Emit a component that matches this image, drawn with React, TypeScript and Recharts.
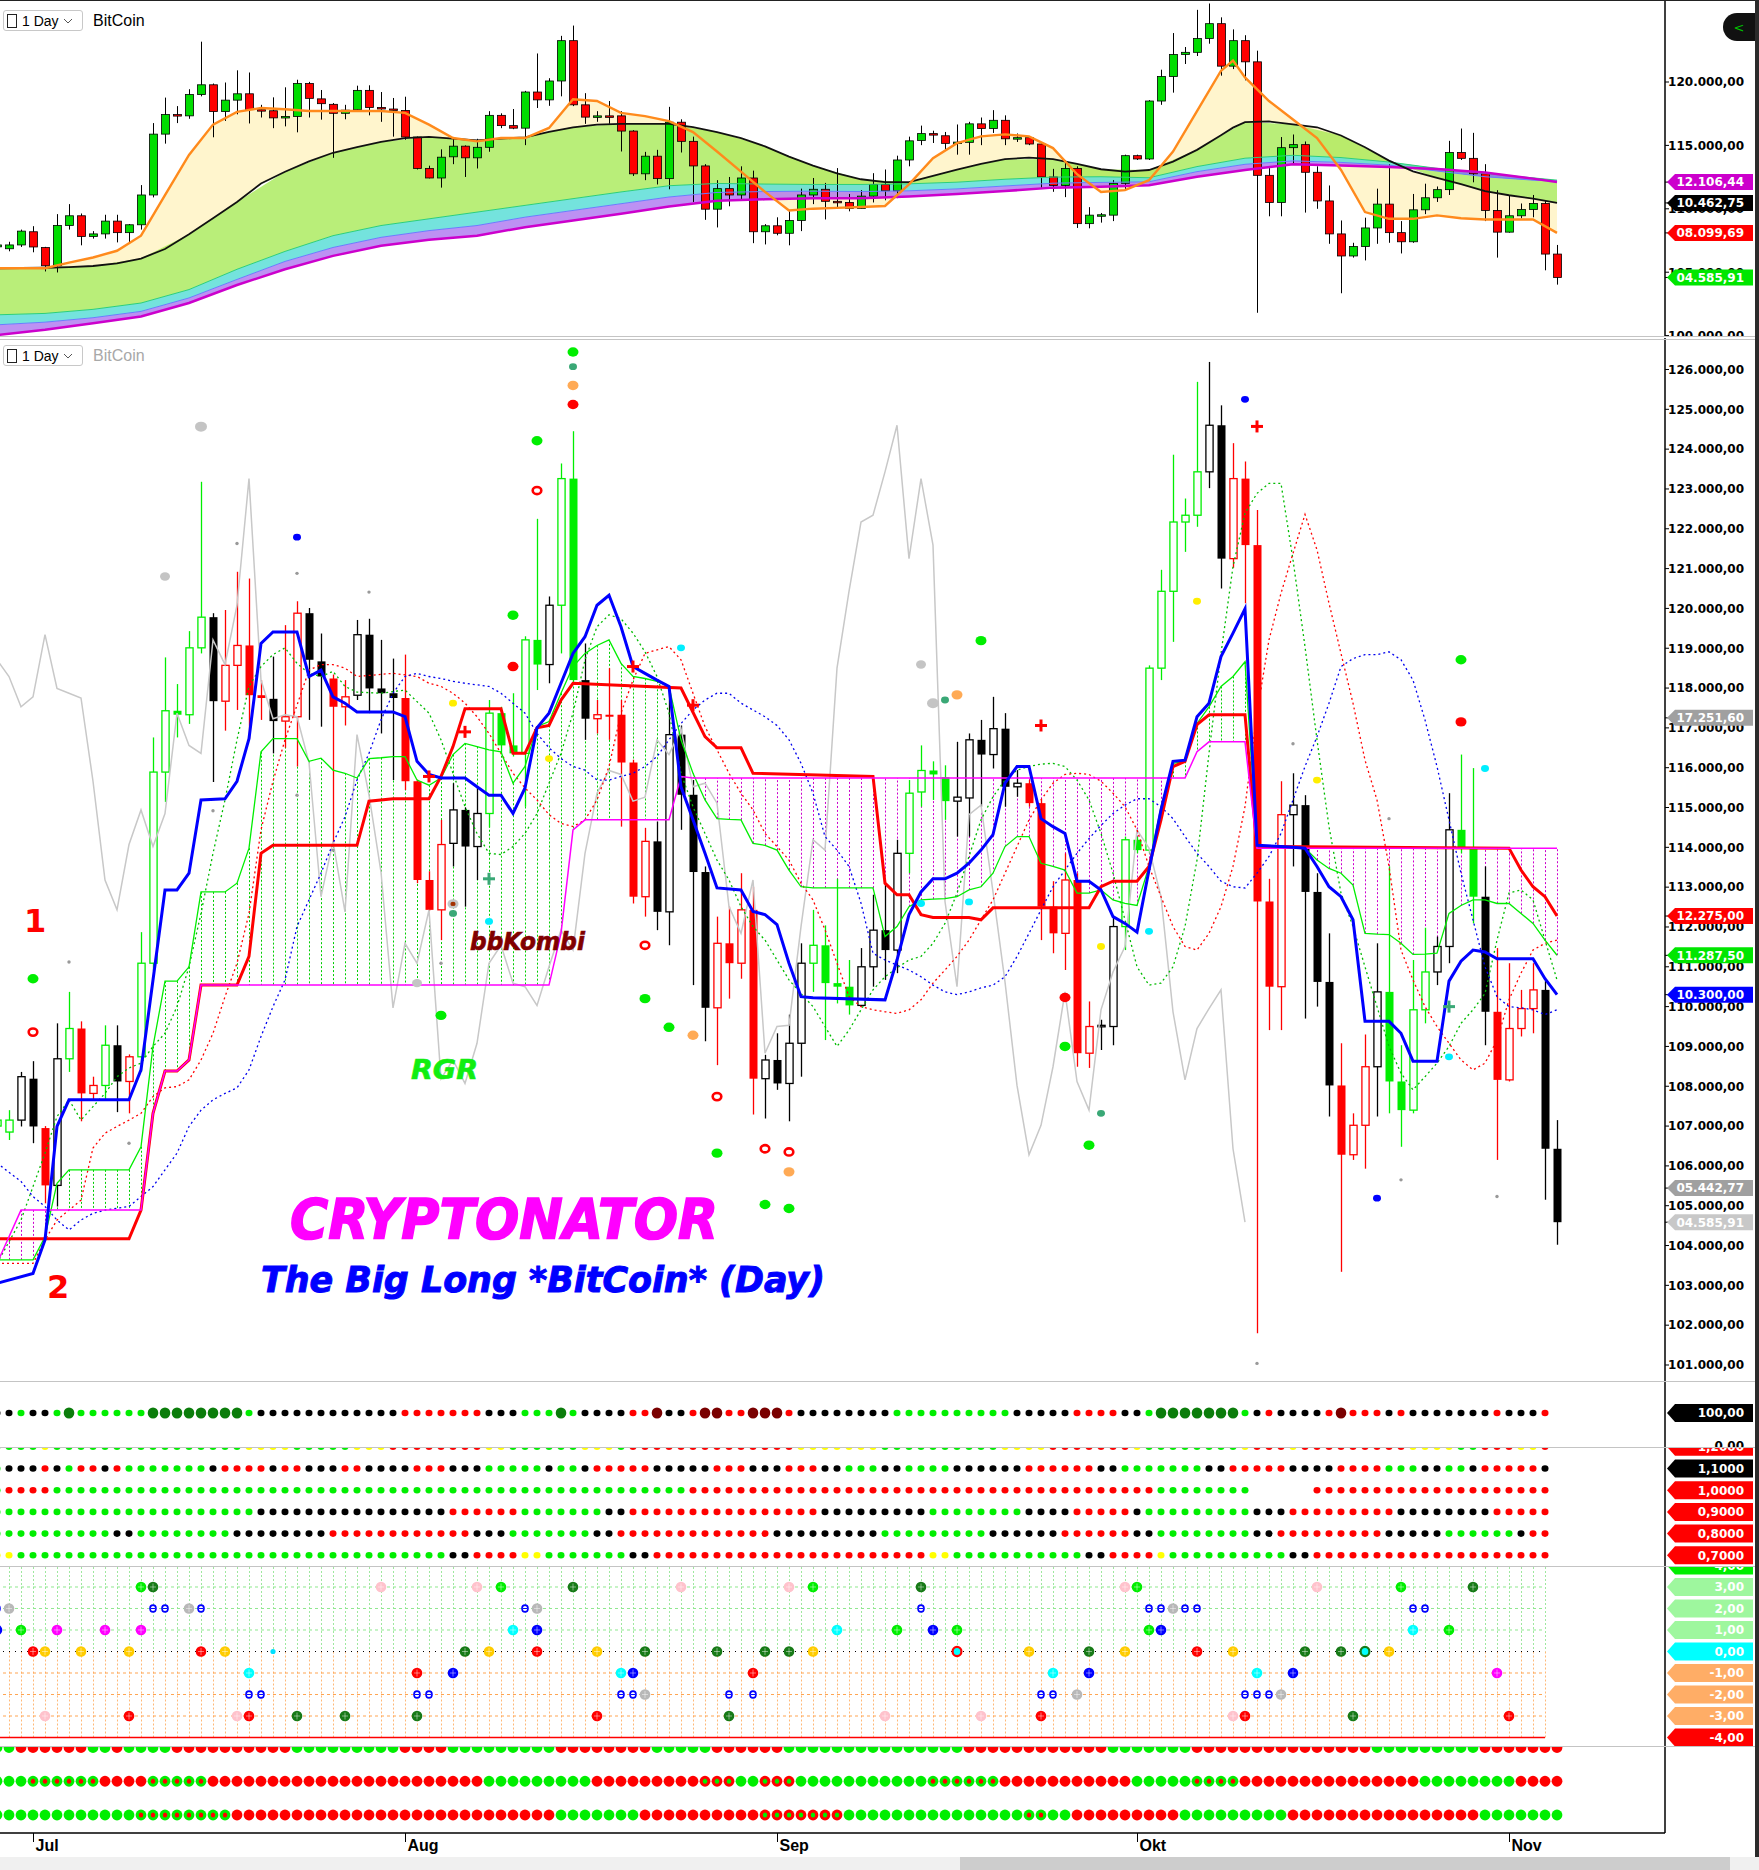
import React from "react";
import { ComposedChart, Bar, Line, Area, XAxis, YAxis } from "recharts";

// every chart is shifted 9px off the page so that the daily bands (12px) line up with the original
const OFF = 9;
const CW = 1759 + OFF;
const AXW = 94;
const AX = CW - AXW;
const SLOTS = 139;

// daily BitCoin candles, 28 Jun .. 5 Nov
const open = [
  107000, 106850, 107150, 108190, 106950, 105510, 108690, 109450, 107820, 108020,
  109030, 108120, 108740, 111090, 115890, 117430, 117330, 119010, 119780, 117670,
  118570, 119070, 117820, 117730, 117170, 117280, 119880, 118670, 118240, 117530,
  117820, 119340, 117990, 117870, 117750, 115660, 113180, 112430, 114100, 114940,
  114020, 114850, 117370, 116560, 116360, 119210, 118590, 120080, 123260, 118200,
  117230, 117330, 117330, 116130, 112760, 114150, 112380, 116830, 115320, 113380,
  109970, 111590, 111090, 112430, 108190, 108660, 108070, 109080, 111090, 111540,
  110590, 110500, 110030, 111000, 111920, 111420, 113850, 115390, 115930, 115760,
  115160, 115240, 116700, 116330, 116980, 115520, 115610, 115110, 112510, 111840,
  113180, 108830, 109500, 109500, 112010, 114190, 113930, 118500, 120430, 122170,
  122340, 123430, 124600, 121250, 123260, 121590, 112640, 110500, 114820, 115060,
  112880, 110620, 108020, 106280, 107020, 108490, 110370, 108120, 107400, 109920,
  110870, 111510, 114440, 113980, 112760, 109870, 108160, 109450, 109950, 110420,
  106430,
];
const high = [
  107350, 107400, 108360, 108630, 107000, 109580, 110370, 109630, 108240, 109530,
  109530, 108800, 111870, 116760, 118770, 118100, 119430, 123180, 119880, 119960,
  120920, 120750, 118200, 118790, 119580, 120180, 120010, 119370, 118340, 118200,
  119710, 119740, 119210, 118740, 118840, 115700, 113400, 114690, 115610, 115000,
  115520, 117700, 117530, 117870, 119300, 122250, 120300, 123640, 124450, 119120,
  117700, 118500, 117700, 116200, 114490, 114650, 118040, 117060, 115690, 113520,
  112260, 112510, 113350, 113010, 108790, 109330, 109800, 111590, 112430, 112040,
  113210, 111170, 111470, 112810, 113100, 114190, 115690, 116560, 116160, 116060,
  116650, 116860, 117200, 117780, 117370, 115940, 115690, 115190, 113150, 113850,
  113350, 110130, 109670, 112260, 114270, 114270, 118570, 120970, 123860, 122760,
  125690, 126190, 125100, 124150, 123690, 122470, 113210, 115660, 115860, 115310,
  113350, 111840, 109080, 107320, 109300, 111590, 113520, 109030, 111170, 111980,
  111760, 115360, 116330, 115990, 113520, 111470, 111090, 110420, 111090, 110640,
  107150,
];
const low = [
  106800, 106650, 106990, 106570, 105060, 104980, 108360, 107120, 107650, 107650,
  107350, 107320, 108360, 110900, 115140, 116760, 117100, 118870, 115640, 116930,
  117450, 116730, 117200, 116360, 116500, 116030, 117200, 117030, 114020, 117060,
  117700, 117370, 116860, 115690, 115440, 113100, 112400, 111670, 113520, 112510,
  113180, 114500, 116360, 116280, 115020, 117950, 118120, 118870, 118100, 116700,
  116860, 116700, 114520, 112590, 112260, 111920, 111540, 114440, 110540, 109130,
  108530, 110200, 110700, 107290, 107190, 107910, 107120, 108240, 110370, 109160,
  110080, 109800, 110000, 110500, 110670, 110840, 113350, 115020, 115190, 114690,
  114270, 114270, 115020, 115980, 115020, 115270, 115020, 111670, 111340, 110920,
  108490, 108460, 108910, 109030, 111420, 113850, 113850, 118200, 119160, 121420,
  122050, 123020, 120500, 121020, 120130, 101800, 109410, 109410, 113520, 109700,
  110000, 107240, 103340, 106150, 105930, 107240, 107320, 106480, 107320, 109580,
  110540, 111090, 113850, 112090, 109030, 106150, 108120, 109250, 109330, 105150,
  104020,
];
const close = [
  107150, 107150, 108240, 106990, 105510, 108690, 109450, 107820, 108020, 109030,
  108120, 108740, 111090, 115890, 117430, 117330, 119010, 119780, 117670, 118570,
  119070, 117820, 117750, 117170, 117280, 119880, 118710, 118290, 117530, 117780,
  119340, 117990, 117870, 117750, 115660, 113180, 112430, 114070, 114940, 114020,
  114850, 117370, 116560, 116360, 119210, 118590, 120080, 123260, 118200, 117230,
  117330, 117280, 116130, 112760, 114150, 112380, 116830, 115320, 113380, 109970,
  111590, 111090, 112430, 108190, 108660, 108070, 109080, 111090, 111540, 110590,
  110500, 110030, 111000, 111920, 111420, 113850, 115360, 115930, 115830, 115160,
  115260, 116700, 116330, 116980, 115520, 115610, 115110, 112510, 111840, 113180,
  108830, 109500, 109530, 112010, 114190, 113930, 118500, 120430, 122170, 122340,
  123430, 124600, 121250, 123260, 121590, 112640, 110500, 114820, 115060, 112880,
  110620, 108020, 106280, 107020, 108490, 110370, 108120, 107400, 109920, 110870,
  111510, 114440, 113980, 112760, 109870, 108160, 109450, 109950, 110420, 106430,
  104586,
];
// colour of the lower chart's candles (g green, r red, k black)
const candleTone =
  "ggkkrkgrrg" + "krggggggkr" + "rrrkrrkkrr" + "kkkkrrrrkk" + "kgggggkggk" + "rrrrrkkkkk" +
  "rrrrkkkkgg" + "ggkkkkgggg" + "kkkkkkrrrr" + "rrkkgggggg" + "gkkrrrrrkk" + "kkrrrkgggg" +
  "kkggkrrrrk" + "k";

const monthTickIdx = [3, 34, 65, 95, 126];
const monthLabels = ["Jul", "Aug", "Sep", "Okt", "Nov"];

// upper chart: moving-average ribbon
const emaFast = [[0,105310],[2,105310],[4,105310],[6,105760],[8,106160],[10,106690],[12,107880],[14,111070],[16,114250],[18,116640],[20,117640],[22,117950],[24,117850],[26,117710],[28,117710],[30,117710],[32,117710],[34,117570],[36,116640],[38,115580],[40,115320],[42,115580],[44,115580],[46,116380],[48,118640],[50,118500],[52,117570],[54,117310],[56,116910],[58,116050],[60,114520],[62,112930],[64,111330],[66,109870],[68,110010],[70,110070],[72,110140],[74,110220],[76,111930],[78,113990],[80,115180],[82,115710],[84,115870],[86,115710],[88,114790],[90,112730],[92,111330],[94,111470],[96,112260],[98,114520],[100,117710],[102,120890],[103,121690],[104,120360],[106,118500],[108,117040],[110,115580],[112,113060],[114,109740],[116,109210],[118,109210],[120,109480],[122,109260],[124,109160],[126,109160],[128,109160],[130,108100]];
const emaMid = [[0,105310],[2,105330],[4,105350],[6,105400],[8,105490],[10,105700],[12,106080],[14,106830],[16,107990],[18,109260],[20,110540],[22,112000],[24,112920],[26,113740],[28,114420],[30,114870],[32,115270],[34,115580],[36,115680],[38,115540],[40,115400],[42,115530],[44,115640],[46,116060],[48,116430],[50,116640],[52,116700],[54,116700],[56,116690],[58,116450],[60,116050],[62,115580],[64,114920],[66,114120],[68,113400],[70,112800],[72,112330],[74,112100],[76,112100],[78,112590],[80,113090],[82,113540],[84,113910],[86,114040],[88,113920],[90,113540],[92,113120],[94,112940],[96,113060],[98,113720],[100,114650],[102,115800],[103,116400],[104,116840],[106,116890],[108,116660],[110,116430],[112,115780],[114,114850],[116,113800],[118,112950],[120,112430],[122,111940],[124,111390],[126,111070],[128,110800],[130,110460]];
const ribbonCyan = [[0,101640],[4,101750],[8,102070],[12,102570],[16,103630],[20,105230],[24,106640],[28,107880],[32,108680],[36,109210],[40,109740],[44,110270],[48,110800],[52,111330],[56,111820],[60,112000],[64,111950],[68,111920],[72,111920],[76,111970],[80,112100],[84,112330],[88,112500],[92,112530],[96,112450],[100,113330],[104,113990],[108,114220],[112,114040],[116,113690],[120,113190],[124,112790],[128,112440],[130,112260]];
const ribbonBlue = [[0,100850],[4,101060],[8,101410],[12,101910],[16,102970],[20,104430],[24,105850],[28,106950],[32,107750],[36,108280],[40,108680],[44,109340],[48,109870],[52,110400],[56,110930],[60,111290],[64,111360],[68,111390],[72,111360],[76,111420],[80,111570],[84,111800],[88,112020],[92,112080],[96,112130],[100,112930],[104,113510],[108,113780],[112,113660],[116,113440],[120,112980],[124,112530],[128,112260],[130,112180]];
const emaSlow = [[0,100050],[4,100470],[8,100980],[12,101510],[16,102570],[20,103990],[24,105230],[28,106290],[32,107090],[36,107560],[40,107880],[44,108550],[48,109080],[52,109610],[56,110180],[60,110630],[64,110750],[68,110830],[72,110830],[76,110980],[80,111170],[84,111400],[88,111670],[92,111730],[96,111860],[100,112530],[104,113060],[108,113510],[112,113420],[116,113290],[120,113130],[124,112860],[128,112380],[130,112110]];

// lower chart lines
const tenkan = [[0,103050],[3,103300],[4,104140],[5,106990],[6,107660],[11,107660],[12,108410],[13,110670],[14,112930],[15,112930],[16,113350],[17,115190],[19,115220],[20,115660],[21,116730],[22,119120],[23,119410],[25,119410],[26,118290],[27,118450],[28,117780],[29,117620],[30,117400],[33,117400],[34,117280],[35,116160],[36,115830],[37,115740],[39,115740],[40,115520],[41,115310],[42,115310],[43,114850],[44,115490],[45,117000],[46,117370],[47,118120],[48,118870],[49,119290],[50,120080],[51,120330],[52,119540],[53,118540],[54,118370],[55,118200],[56,118040],[57,115520],[58,114690],[59,113850],[60,112980],[62,112930],[63,112390],[64,112310],[65,112060],[66,111090],[67,110250],[68,110220],[74,110170],[75,111170],[76,112310],[77,112880],[78,113210],[79,113210],[80,113350],[81,113600],[82,113930],[83,114320],[84,115610],[85,116030],[86,116030],[87,114720],[88,114520],[89,114350],[90,113150],[91,113150],[92,112930],[93,112260],[94,112090],[95,111870],[96,113430],[97,114940],[98,116160],[99,116190],[100,117280],[101,117620],[102,118790],[103,119380],[104,119990],[105,114050],[107,114020],[108,114000],[109,113980],[110,113520],[111,113010],[112,112760],[113,112180],[114,109630],[116,109630],[117,109330],[118,108630],[120,108630],[121,110640],[122,111140],[123,111420],[124,111370],[125,111200],[128,111200],[129,110700],[130,110300]];
const kijun = [[0,104170],[11,104170],[12,104890],[13,107320],[14,108380],[15,108380],[16,108660],[17,110540],[20,110540],[21,111260],[22,113850],[23,114050],[30,114050],[31,115160],[33,115220],[36,115220],[37,115780],[38,116530],[39,117480],[42,117480],[43,116360],[44,116360],[45,117000],[46,117060],[47,117700],[48,118120],[57,118000],[59,116780],[60,116500],[62,116500],[63,115860],[73,115780],[74,113100],[75,112810],[76,112810],[77,112310],[78,112240],[81,112240],[82,112180],[83,112480],[91,112480],[92,113010],[93,113150],[95,113150],[96,113520],[97,114690],[98,116030],[99,116160],[100,117080],[101,117330],[104,117330],[105,114020],[126,113980],[127,113430],[128,113010],[129,112760],[130,112275]];
const spanA = [
  103640, 103640, 103640, 103640, 104220, 105560, 105900, 105900, 105900, 105900,
  105900, 105900, 106480, 109000, 110640, 110640, 111000, 112880, 112880, 112880,
  113100, 113980, 116400, 116730, 116730, 116730, 116160, 116240, 115940, 115860,
  115740, 116230, 116250, 116280, 116280, 115690, 115560, 115740, 116330, 116610,
  116530, 116450, 116400, 115610, 116030, 117030, 117160, 117870, 118540, 118870,
  119070, 119210, 118620, 118290, 118240, 118170, 118040, 116700, 115860, 115190,
  114720, 114700, 114690, 114100, 114050, 113930, 113430, 113010, 112980, 112980,
  112980, 112980, 112980, 112980, 111760, 112010, 112510, 112680, 112700, 112710,
  112760, 112930, 113010, 113350, 114020, 114270, 114270, 113600, 113520, 113430,
  112850, 112850, 112930, 112680, 112590, 112540, 113520, 115020, 116110, 116160,
  117110, 117530, 118040, 118290, 118660, 114020, 114020, 114020, 114000, 113980,
  113680, 113470, 113350, 113050, 111840, 111820, 111810, 111590, 111310, 111320,
  111340, 112340, 112540, 112680, 112680, 112590, 112590, 112340, 112090, 111670,
  111290,
];
const spanB = [
  103550, 104220, 104890, 104890, 104890, 104890, 104890, 104890, 104890, 104890,
  104890, 104890, 104890, 107320, 108380, 108380, 108660, 110540, 110540, 110540,
  110540, 110540, 110540, 110540, 110540, 110540, 110540, 110540, 110540, 110540,
  110540, 110540, 110540, 110540, 110540, 110540, 110540, 110540, 110540, 110540,
  110540, 110540, 110540, 110540, 110540, 110540, 110540, 111840, 114440, 114690,
  114690, 114690, 114690, 114690, 114690, 114690, 114690, 115780, 115740, 115740,
  115740, 115740, 115740, 115740, 115740, 115740, 115740, 115740, 115740, 115740,
  115740, 115740, 115740, 115740, 115740, 115740, 115740, 115740, 115740, 115740,
  115740, 115740, 115740, 115740, 115740, 115740, 115740, 115740, 115740, 115740,
  115740, 115740, 115740, 115740, 115740, 115740, 115740, 115740, 115740, 115740,
  116400, 116650, 116650, 116650, 116650, 113980, 113980, 113980, 113980, 113980,
  113980, 113980, 113980, 113980, 113980, 113980, 113980, 113980, 113980, 113980,
  113980, 113980, 113980, 113980, 113980, 113980, 113980, 113980, 113980, 113980,
  113980,
];
const trailGreen = [[0,103550],[2,104640],[3,105480],[4,106320],[5,107240],[6,107660],[7,107150],[8,107490],[9,107820],[10,108240],[11,108460],[12,108580],[13,109000],[14,109330],[15,110000],[16,111000],[17,112340],[18,113850],[19,115190],[20,116700],[21,118040],[22,118540],[23,118840],[24,119010],[25,118620],[26,118370],[27,118290],[28,118420],[29,118040],[30,117900],[32,117870],[34,117950],[36,117370],[37,116700],[38,115860],[39,115020],[40,114350],[41,113850],[42,113820],[43,114020],[44,114350],[45,114850],[46,115610],[47,116360],[48,117370],[49,118710],[50,119540],[51,119840],[52,119740],[53,119380],[54,118910],[55,118290],[56,117370],[57,115860],[58,115020],[59,114350],[60,113680],[61,113180],[62,112510],[63,112010],[64,111670],[65,111170],[66,110670],[67,110330],[68,110000],[69,109500],[70,109000],[71,109410],[72,109920],[73,110420],[74,110750],[75,110970],[76,111170],[77,111260],[78,111590],[79,112090],[80,112850],[81,113770],[82,114690],[83,115270],[84,115690],[85,115940],[86,116030],[87,116090],[88,116110],[89,116030],[90,115690],[91,115190],[92,114350],[93,113350],[94,112180],[95,111000],[96,110540],[97,110590],[98,111000],[99,112010],[100,113680],[101,116360],[102,118870],[103,121050],[104,122390],[105,122890],[106,123140],[107,123140],[108,121220],[109,119040],[110,116700],[111,114520],[112,112850],[113,112010],[114,111000],[115,110000],[116,109000],[117,108330],[118,107910],[119,108240],[120,108580],[121,109000],[122,109580],[123,109920],[124,110330],[125,111670],[126,112850],[127,112930],[128,112680],[129,111670],[130,110670]];
const trailRed = [[0,103550],[3,103550],[4,104140],[5,104640],[6,104890],[7,105140],[8,106450],[9,106820],[10,106990],[11,107150],[12,107320],[13,107740],[14,107960],[15,107990],[16,108160],[17,108660],[18,109330],[19,110250],[20,111090],[21,112340],[22,114440],[23,115660],[24,116700],[25,117570],[26,118450],[27,118590],[28,118590],[29,118500],[30,118290],[33,118370],[35,118290],[36,118120],[37,118040],[38,117870],[39,117620],[40,117280],[41,116860],[42,116360],[43,115860],[44,115490],[45,115190],[46,114820],[47,114600],[48,114520],[49,114690],[50,115190],[51,116030],[52,117370],[53,118200],[54,118870],[55,118960],[56,119040],[57,118710],[58,117870],[59,117030],[60,116450],[61,115860],[62,115360],[63,114940],[64,114350],[65,114020],[66,113680],[67,113100],[68,112680],[69,111930],[70,111090],[71,110250],[72,110000],[73,109920],[74,109870],[75,109830],[76,109920],[77,110170],[78,110590],[79,110920],[80,111260],[81,111670],[82,112180],[83,112680],[84,113350],[85,114020],[86,114690],[87,115190],[88,115610],[89,115830],[90,115860],[91,115830],[92,115660],[93,115360],[94,115020],[95,114440],[96,113520],[97,112760],[98,112010],[99,111510],[100,111420],[101,111840],[102,112510],[103,113520],[104,115020],[105,117370],[106,119210],[107,120380],[108,121380],[109,122360],[110,121470],[111,120130],[112,118870],[113,117620],[114,116190],[115,115190],[116,113520],[117,111420],[118,110670],[119,110000],[120,109500],[121,109080],[122,108660],[123,108410],[124,108580],[125,109160],[126,110170],[127,110840],[128,111420],[129,111590],[130,111670]];
const trailBlue = [[0,106070],[2,105610],[3,105230],[4,104980],[5,104640],[6,104390],[7,104640],[8,104810],[9,104890],[11,104980],[12,105230],[13,105480],[14,105900],[15,106320],[16,106990],[17,107400],[18,107660],[19,107820],[20,107960],[21,108410],[22,109250],[23,110000],[24,110670],[25,112010],[26,112680],[27,113350],[28,114100],[29,114770],[30,115690],[31,116360],[32,117200],[33,117870],[34,118290],[35,118370],[36,118290],[37,118240],[38,118170],[39,118120],[41,118040],[42,117870],[43,117620],[44,117370],[45,116860],[46,116500],[47,116230],[48,116030],[49,115940],[50,115690],[51,115690],[52,115780],[53,115860],[54,116030],[55,116280],[56,116700],[57,117110],[58,117450],[59,117700],[60,117870],[61,117870],[62,117620],[63,117450],[64,117280],[65,117060],[66,116700],[67,116110],[68,115360],[69,114270],[70,113930],[71,113520],[72,112600],[73,111340],[74,111170],[75,111040],[76,110920],[77,110750],[78,110540],[79,110370],[80,110300],[81,110370],[82,110470],[83,110540],[84,110750],[85,111260],[86,111840],[87,112430],[88,113010],[89,113430],[90,113850],[91,114220],[92,114550],[93,114850],[94,115060],[95,115220],[96,115220],[97,115020],[98,114720],[99,114270],[100,113850],[101,113520],[102,113150],[103,113010],[104,112980],[105,113350],[106,113770],[107,114350],[108,115190],[109,116030],[110,116780],[111,117620],[112,118540],[113,118740],[114,118840],[115,118840],[116,118910],[117,118710],[118,118200],[119,117200],[120,116030],[121,114690],[122,113350],[123,112180],[124,111000],[125,110250],[126,110000],[127,109970],[128,109920],[129,109800],[130,109920]];
const LAG = 26; // grey line = close shifted back 26 days

// signal markers in the lower chart: [day, price, kind]
const markers = [
  [17,124565,"grayL"],[14,120800,"gray"],[20,121630,"grayS"],[25,121790,"blue"],[25,120880,"grayS"],
  [31,120410,"grayS"],[18,114920,"grayS"],[25,115310,"grayS"],[28,113930,"grayS"],[35,110590,"gray"],
  [37,111090,"grayS"],[6,111120,"grayS"],[11,106570,"grayS"],[3,110700,"green"],[3,109360,"redRing"],
  [37,109780,"green"],[48,126440,"green"],[48,126070,"teal"],[48,125600,"orange"],[48,125120,"red"],
  [45,124210,"green"],[45,122960,"redRing"],[43,119830,"green"],[43,118540,"red"],[38,117620,"yellow"],
  [39,116900,"cross"],[36,115780,"cross"],[46,116230,"yellow"],[41,113210,"crossG"],[41,112140,"cyan"],
  [38,112580,"grayRed"],[38,112340,"teal"],[53,118540,"cross"],[57,119010,"cyan"],[58,117570,"cross"],
  [54,111540,"redRing"],[54,110200,"green"],[56,109480,"green"],[58,109280,"orange"],[60,107740,"redRing"],
  [60,106320,"green"],[64,106430,"redRing"],[66,106350,"redRing"],[66,105850,"orange"],[64,105030,"green"],
  [66,104930,"green"],[82,119190,"green"],[77,118590,"gray"],[78,117620,"grayL"],[79,117700,"teal"],
  [80,117830,"orange"],[87,117060,"cross"],[77,112590,"cyan"],[81,112630,"cyan"],[92,111510,"yellow"],
  [96,111890,"cyan"],[89,110230,"red"],[89,109000,"green"],[92,107320,"teal"],[91,106520,"green"],
  [100,120180,"yellow"],[104,125250,"blue"],[105,124570,"cross"],[105,101040,"grayS"],[122,118710,"green"],
  [122,117150,"red"],[124,115980,"cyan"],[110,115690,"yellow"],[121,110000,"crossG"],[121,108740,"cyan"],
  [115,105190,"blue"],[117,105650,"grayS"],[125,105230,"grayS"],[108,116600,"grayS"],[116,114720,"grayS"],
];

// dot strips, run-length coded (colour letter + count, "." = no dot)
const strip100 = "k2g1k2g1G1g6G8g1k12r7k3g3G1g1k4r2R1k2r1R2r2R3r1k8g10k5r4k2g1G7g1k1r1k4r1R1r3k1r1k7r1k3r1";
const stripLevels = [1.2, 1.1, 1.0, 0.9, 0.8, 0.7];
const stripRows = [
  "g4y1g16y4g5y3r8y2g6y3g1r14y7g10y4r7y1g8y1r3y1r9y4g2r3y2r1",
  "g1k3r1k1g1r2k1r1g7k1r4k1r2k3r2k4r3k3g5k1g2k1r5k5r3k3r3k2g3k2g4k6r6k2g7k2r5k4r4g3k2g2k1r5k1",
  "g1r4g53r16r23g8.5r20",
  "g22k16r6g7k2r16k5k4g8k4r5k1g9k3r9k8r5",
  "g10k2g8k8r12k3g7k2r13k9g9k6r6k2g8k2r9k5g6k1r2",
  "y2g36k2r4y2g7k2r19r4y2g11k2r4y1g10k2r20",
];
// oscillator signals: [day, level, kind]
const signalPts = [
  [12,3,"g"],[13,3,"dg"],[32,3,"pk"],[40,3,"pk"],[42,3,"g"],[48,3,"dg"],[57,3,"pk"],[66,3,"pk"],[68,3,"g"],[77,3,"dg"],[94,3,"pk"],[95,3,"g"],[110,3,"pk"],[117,3,"g"],[123,3,"dg"],
  [0,2,"bs"],[1,2,"gy"],[13,2,"bs"],[14,2,"bs"],[16,2,"gy"],[17,2,"bs"],[44,2,"bs"],[45,2,"gy"],[77,2,"bs"],[96,2,"bs"],[97,2,"bs"],[98,2,"gy"],[99,2,"bs"],[100,2,"bs"],[118,2,"bs"],[119,2,"bs"],
  [0,1,"b"],[2,1,"g"],[5,1,"m"],[9,1,"m"],[12,1,"m"],[43,1,"cy"],[45,1,"b"],[70,1,"cy"],[75,1,"g"],[78,1,"b"],[80,1,"g"],[96,1,"g"],[97,1,"b"],[118,1,"cy"],[121,1,"g"],
  [3,0,"r"],[4,0,"y"],[7,0,"y"],[11,0,"y"],[17,0,"r"],[19,0,"y"],[23,0,"cs"],[39,0,"dg"],[41,0,"y"],[45,0,"r"],[50,0,"y"],[54,0,"dg"],[60,0,"dg"],[64,0,"dg"],[66,0,"dg"],[68,0,"y"],[80,0,"rc"],[86,0,"y"],[91,0,"dg"],[94,0,"y"],[100,0,"r"],[103,0,"y"],[109,0,"dg"],[112,0,"dg"],[114,0,"tc"],[116,0,"y"],
  [21,-1,"cy"],[35,-1,"r"],[38,-1,"b"],[52,-1,"cy"],[53,-1,"b"],[63,-1,"r"],[88,-1,"cy"],[91,-1,"b"],[105,-1,"cy"],[108,-1,"b"],[125,-1,"m"],
  [21,-2,"bs"],[22,-2,"bs"],[35,-2,"bs"],[36,-2,"bs"],[52,-2,"bs"],[53,-2,"bs"],[54,-2,"gy"],[61,-2,"bs"],[63,-2,"bs"],[87,-2,"bs"],[88,-2,"bs"],[90,-2,"gy"],[104,-2,"bs"],[105,-2,"bs"],[106,-2,"bs"],[107,-2,"gy"],
  [4,-3,"pk"],[11,-3,"r"],[20,-3,"pk"],[21,-3,"r"],[25,-3,"dg"],[29,-3,"dg"],[35,-3,"dg"],[50,-3,"r"],[61,-3,"dg"],[74,-3,"pk"],[82,-3,"pk"],[87,-3,"r"],[103,-3,"pk"],[104,-3,"r"],[113,-3,"dg"],[126,-3,"r"],
];
const signalLevels = [3, 2, 1, 0, -1, -2, -3];
// trend strips at the bottom
const trendLevels = [3, 2, 1];
const trendRows = [
  "g2r6g2r1g4r10g9r4g9r8g5r6g8g7r12g7r15g9r7",
  "g3x6r4x5r23g9r9o3g2o3g7g4x6r11g5x4r15g8r4",
  "g12x8r27g7r10o7g3g12x2g2r9g9r16g7",
];

// axis labels and value tags
const topTicks = [100000, 105000, 110000, 115000, 120000];
const topTags = [
  { v: 112106.44, text: "12.106,44", bg: "#cc00cc" },
  { v: 110462.75, text: "10.462,75", bg: "#000000" },
  { v: 108099.69, text: "08.099,69", bg: "#ff0000" },
  { v: 104585.91, text: "04.585,91", bg: "#00e600" },
];
const mainTicks = [101000,102000,103000,104000,105000,106000,107000,108000,109000,110000,111000,112000,113000,114000,115000,116000,117000,118000,119000,120000,121000,122000,123000,124000,125000,126000];
const mainTags = [
  { v: 117251.6, text: "17.251,60", bg: "#a0a0a0" },
  { v: 112275, text: "12.275,00", bg: "#ff0000" },
  { v: 111287.5, text: "11.287,50", bg: "#00e600" },
  { v: 110300, text: "10.300,00", bg: "#0000ff" },
  { v: 105442.77, text: "05.442,77", bg: "#a0a0a0" },
  { v: 104585.91, text: "04.585,91", bg: "#c8c8c8" },
];
const p1Tags = [{ v: 100, text: "100,00", bg: "#000000" }];
const p2Tags = [
  { v: 1.2, text: "1,2000", bg: "#ff0000" },
  { v: 1.1, text: "1,1000", bg: "#000000" },
  { v: 1.0, text: "1,0000", bg: "#ff0000" },
  { v: 0.9, text: "0,9000", bg: "#ff0000" },
  { v: 0.8, text: "0,8000", bg: "#ff0000" },
  { v: 0.7, text: "0,7000", bg: "#ff0000" },
];
const p3Tags = [
  { v: 4, text: "4,00", bg: "#00ee00" },
  { v: 3, text: "3,00", bg: "#9ef79e" },
  { v: 2, text: "2,00", bg: "#9ef79e" },
  { v: 1, text: "1,00", bg: "#9ef79e" },
  { v: 0, text: "0,00", bg: "#00ffff" },
  { v: -1, text: "-1,00", bg: "#ffad66" },
  { v: -2, text: "-2,00", bg: "#ffad66" },
  { v: -3, text: "-3,00", bg: "#ffad66" },
  { v: -4, text: "-4,00", bg: "#ff0000" },
];

// ---------------------------------------------------------------------------
const rows = Array.from({ length: SLOTS }, (_, k) => ({ k }));
const toMap = (pairs: any[]) => new Map<number, number>(pairs.map((p: any) => [p[0], p[1]]));
const rle = (s: string) => s.replace(/([a-zA-Z.])(\d+)/g, (_m, c, n) => c.repeat(Number(n)));
const de = (v: number, d = 2) =>
  v.toLocaleString("de-DE", { minimumFractionDigits: d, maximumFractionDigits: d });

const fastM = toMap(emaFast), midM = toMap(emaMid), cyanM = toMap(ribbonCyan), blueM = toMap(ribbonBlue), slowM = toMap(emaSlow);
const pairKey = (a: Map<number, number>, b: Map<number, number>) => (r: any) =>
  a.has(r.k) && b.has(r.k) ? [a.get(r.k), b.get(r.k)] : null;
const mapKey = (m: Map<number, number>) => (r: any) => (m.has(r.k) ? m.get(r.k) : null);

const markerSlots: Map<number, [number, string]>[] = [new Map(), new Map(), new Map(), new Map()];
markers.forEach((m: any) => {
  let i = 0;
  while (markerSlots[i].has(m[0])) i++;
  markerSlots[i].set(m[0], [m[1], m[2]]);
});
const strip100Codes = rle(strip100);
const stripCodes = stripRows.map(rle);
const trendCodes = trendRows.map(rle);
const signalMaps = signalLevels.map(
  (L) => new Map<number, string>(signalPts.filter((p: any) => p[1] === L).map((p: any) => [p[0], p[2]]))
);

const candleKey = (r: any) => (r.k < open.length ? [low[r.k], high[r.k]] : null);
const crisp = (x: number, w: number) => Math.floor(x + w / 2) + 0.5;

const toneCol: any = { g: "#00ee00", r: "#ff0000", k: "#000000" };

const CandleMain = (p: any) => {
  const { x, y, width, height, payload } = p;
  const k = payload?.k;
  if (k == null || k >= open.length || !Number.isFinite(y) || !Number.isFinite(height) || height <= 0) return <g />;
  const h = high[k], l = low[k], o = open[k], c = close[k];
  const s = height / (h - l);
  const Y = (v: number) => y + (h - v) * s;
  const cx = crisp(x, width);
  const col = toneCol[candleTone[k]];
  const top = Y(Math.max(o, c));
  const bh = Math.max(Y(Math.min(o, c)) - top, 1.5);
  const a = spanA[k], b = spanB[k];
  return (
    <g>
      <line x1={cx} x2={cx} y1={Y(a)} y2={Y(b)} stroke={a >= b ? "#00cc00" : "#cc00cc"} strokeWidth={1} strokeDasharray="2 2" />
      <line x1={cx} x2={cx} y1={Y(h)} y2={Y(l)} stroke={col} strokeWidth={1.3} />
      {c > o ? (
        <rect x={cx - 3.6} y={top} width={7.2} height={bh} fill="#fff" stroke={col} strokeWidth={1.3} />
      ) : (
        <rect x={cx - 4} y={top} width={8} height={bh} fill={col} />
      )}
    </g>
  );
};

const CandleTop = (p: any) => {
  const { x, y, width, height, payload } = p;
  const k = payload?.k;
  if (k == null || k >= open.length || !Number.isFinite(y) || !Number.isFinite(height) || height <= 0) return <g />;
  const h = high[k], l = low[k], o = open[k], c = close[k];
  const s = height / (h - l);
  const Y = (v: number) => y + (h - v) * s;
  const cx = crisp(x, width);
  const top = Y(Math.max(o, c));
  const bh = Math.max(Y(Math.min(o, c)) - top, 1.5);
  return (
    <g>
      <line x1={cx} x2={cx} y1={Y(h)} y2={Y(l)} stroke="#000" strokeWidth={1} />
      <rect x={cx - 4} y={top} width={8} height={bh} fill={c >= o ? "#00dd00" : "#ff0000"} stroke="#000" strokeWidth={0.8} />
    </g>
  );
};

const P3TOP = 3.93;
const GridBar = (p: any) => {
  const { x, y, width, height } = p;
  if (!Number.isFinite(y) || !Number.isFinite(height) || height <= 0) return <g />;
  const y0 = y + (P3TOP / (P3TOP + 4)) * height;
  const cx = crisp(x, width);
  return (
    <g>
      <line x1={cx} x2={cx} y1={y} y2={y0} stroke="#9fe89f" strokeWidth={1} strokeDasharray="2 2" />
      <line x1={cx} x2={cx} y1={y0} y2={y + height} stroke="#ffb877" strokeWidth={1} strokeDasharray="2 2" />
    </g>
  );
};

const MarkerShape = ({ x, y, kind }: any) => {
  switch (kind) {
    case "green": return <ellipse cx={x} cy={y} rx={5.5} ry={4.7} fill="#00ee00" />;
    case "red": return <ellipse cx={x} cy={y} rx={5.5} ry={4.7} fill="#ff0000" />;
    case "orange": return <ellipse cx={x} cy={y} rx={5.5} ry={4.7} fill="#ffaa55" />;
    case "redRing": return <ellipse cx={x} cy={y} rx={4.3} ry={3.6} fill="#fff" stroke="#ff0000" strokeWidth={2.6} />;
    case "teal": return <ellipse cx={x} cy={y} rx={4} ry={3.4} fill="#3aa876" />;
    case "cyan": return <ellipse cx={x} cy={y} rx={4} ry={3.4} fill="#00eeff" />;
    case "yellow": return <ellipse cx={x} cy={y} rx={4} ry={3.4} fill="#ffee00" />;
    case "blue": return <ellipse cx={x} cy={y} rx={4} ry={3.4} fill="#0000ff" />;
    case "gray": return <ellipse cx={x} cy={y} rx={5} ry={4.2} fill="#c4c4c4" />;
    case "grayL": return <ellipse cx={x} cy={y} rx={6} ry={5} fill="#c4c4c4" />;
    case "grayS": return <circle cx={x} cy={y} r={1.7} fill="#999" />;
    case "grayRed":
      return (
        <g>
          <ellipse cx={x} cy={y} rx={5.5} ry={4.7} fill="#c4c4c4" />
          <ellipse cx={x} cy={y} rx={2.6} ry={2.2} fill="#a33000" />
        </g>
      );
    case "cross":
    case "crossG": {
      const c = kind === "cross" ? "#ff0000" : "#3aa876";
      return (
        <g stroke={c} strokeWidth={3}>
          <line x1={x - 6} x2={x + 6} y1={y} y2={y} />
          <line x1={x} x2={x} y1={y - 6} y2={y + 6} />
        </g>
      );
    }
    default: return <g />;
  }
};

const markerDot = (slot: number) => (p: any) => {
  const { cx, cy, payload, index } = p;
  const m = markerSlots[slot].get(payload?.k);
  if (!m || cy == null || !Number.isFinite(cy)) return <g key={`m${slot}-${index}`} />;
  return <MarkerShape key={`m${slot}-${index}`} x={cx} y={cy} kind={m[1]} />;
};

const stripPal: any = { k: "#000000", g: "#00ee00", r: "#ff0000", y: "#ffff00", G: "#0b7d0b", R: "#7a0000" };
const stripDot = (codes: string) => (p: any) => {
  const { cx, cy, payload, index } = p;
  const c = codes[payload?.k];
  if (!c || c === "." || cy == null || !Number.isFinite(cy)) return <g key={`s${index}`} />;
  const big = c === "G" || c === "R";
  return <ellipse key={`s${index}`} cx={cx} cy={cy} rx={big ? 5.3 : 3.5} ry={big ? 5.6 : 3.3} fill={stripPal[c]} />;
};

const trendDot = (codes: string) => (p: any) => {
  const { cx, cy, payload, index } = p;
  const c = codes[payload?.k];
  if (!c || cy == null || !Number.isFinite(cy)) return <g key={`t${index}`} />;
  const outer = c === "g" || c === "x" ? "#00ee00" : "#ff0000";
  return (
    <g key={`t${index}`}>
      <ellipse cx={cx} cy={cy} rx={5.4} ry={5.4} fill={outer} />
      {c === "x" && <ellipse cx={cx} cy={cy} rx={2.2} ry={2.6} fill="#ff0000" />}
      {c === "o" && <ellipse cx={cx} cy={cy} rx={2.2} ry={2.6} fill="#00ee00" />}
    </g>
  );
};

const sigFill: any = { dg: "#177a17", g: "#00ee00", pk: "#ffc2cc", gy: "#b8b8b8", b: "#0000ff", cy: "#00ffff", m: "#ff00ff", r: "#ff0000", y: "#ffcc00" };
const signalDot = (m: Map<number, string>) => (p: any) => {
  const { cx, cy, payload, index } = p;
  const kind = m.get(payload?.k);
  if (!kind || cy == null || !Number.isFinite(cy)) return <g key={`q${index}`} />;
  if (kind === "bs")
    return (
      <g key={`q${index}`}>
        <ellipse cx={cx} cy={cy} rx={3} ry={3.4} fill="#fff" stroke="#0000ff" strokeWidth={1.6} />
        <line x1={cx - 2} x2={cx + 2} y1={cy} y2={cy} stroke="#0000ff" strokeWidth={1} />
      </g>
    );
  if (kind === "cs") return <circle key={`q${index}`} cx={cx} cy={cy} r={2.6} fill="#00e0ff" />;
  if (kind === "rc" || kind === "tc")
    return (
      <ellipse key={`q${index}`} cx={cx} cy={cy} rx={4.4} ry={4.6} fill="#00ffff" stroke={kind === "rc" ? "#ff0000" : "#177a17"} strokeWidth={2.2} />
    );
  return (
    <g key={`q${index}`}>
      <ellipse cx={cx} cy={cy} rx={5.3} ry={5.3} fill={sigFill[kind]} />
      <line x1={cx} x2={cx} y1={cy - 3.5} y2={cy + 3.5} stroke="rgba(255,255,255,0.45)" strokeWidth={1} />
      <line x1={cx - 3} x2={cx + 3} y1={cy} y2={cy} stroke="rgba(255,255,255,0.45)" strokeWidth={1} />
    </g>
  );
};

const axisTick = (tags: any[], fmt: ((v: number) => string) | null, tagH: number) => (p: any) => {
  const v = p.payload?.value;
  const y = p.y;
  const t = tags.find((q) => Math.abs(q.v - v) < 1e-6);
  if (t) {
    const x0 = AX + 2, x1 = AX + 88, hh = tagH / 2;
    return (
      <g>
        <polygon points={`${x0},${y} ${x0 + 8},${y - hh} ${x1},${y - hh} ${x1},${y + hh} ${x0 + 8},${y + hh}`} fill={t.bg} />
        <text x={AX + 79} y={y} dy="0.36em" textAnchor="end" fill="#fff" fontSize={12} fontWeight={700} fontFamily="DejaVu Sans">
          {t.text}
        </text>
      </g>
    );
  }
  if (!fmt) return <g />;
  return (
    <text x={AX + 79} y={y} dy="0.36em" textAnchor="end" fill="#000" fontSize={12} fontWeight={700} fontFamily="DejaVu Sans">
      {fmt(v)}
    </text>
  );
};

const monthTick = (p: any) => {
  const i = monthTickIdx.indexOf(p.payload?.value);
  if (i < 0) return <g />;
  const x = Math.floor(p.x) + 0.5;
  return (
    <g>
      <line x1={x} x2={x} y1={p.y} y2={p.y + 9} stroke="#000" strokeWidth={1} />
      <text x={x + 2} y={p.y + 18} fontSize={16} fontWeight={700} fill="#000" fontFamily="Liberation Sans, Arial, sans-serif">
        {monthLabels[i]}
      </text>
    </g>
  );
};

const hiddenX = <XAxis dataKey="k" type="category" scale="band" hide padding={{ left: 0, right: 6 }} />;
const yAxisLine = { stroke: "#000", strokeWidth: 1.5 };

const Panel = ({ top, height, children }: any) => (
  <div style={{ position: "absolute", left: -OFF, top, width: CW, height }}>
    <ComposedChart width={CW} height={height} data={rows} margin={{ top: 0, right: 0, bottom: 0, left: 0 }}>
      {children}
    </ComposedChart>
  </div>
);

const Header = ({ top, dim }: any) => (
  <div style={{ position: "absolute", left: 3, top, display: "flex", alignItems: "center", whiteSpace: "nowrap", fontFamily: "Liberation Sans, Arial, sans-serif" }}>
    <div style={{ display: "flex", alignItems: "center", flexShrink: 0, height: 21, width: 80, boxSizing: "border-box", border: "1px solid #c8c8c8", borderRadius: 3, padding: "0 3px", fontSize: 14, background: "#fff", whiteSpace: "nowrap" }}>
      <span style={{ width: 8, height: 12, border: "1.5px solid #222", display: "inline-block", marginRight: 5, flexShrink: 0 }} />
      <span style={{ whiteSpace: "nowrap" }}>1 Day</span>
      <svg width={10} height={8} style={{ marginLeft: 4, flexShrink: 0 }}>
        <path d="M1 2 L5 6 L9 2" fill="none" stroke="#555" strokeWidth={1} />
      </svg>
    </div>
    <span style={{ marginLeft: 10, fontSize: 16, color: dim ? "#a8a8a8" : "#000" }}>BitCoin</span>
  </div>
);

const hr = (y: number) => (
  <div key={y} style={{ position: "absolute", left: 0, top: y, width: 1755, height: 1, background: "#c4c4c4" }} />
);

export default function App() {
  return (
    <div style={{ position: "relative", width: 1759, height: 1870, overflow: "hidden", background: "#fff" }}>
      <style>{"body{margin:0}"}</style>

      {/* upper chart: candles over MA ribbon */}
      <Panel top={0} height={337}>
        {hiddenX}
        <YAxis orientation="right" width={AXW} type="number" domain={[99890, 126467]} allowDataOverflow
          ticks={[...topTicks, ...topTags.map((t) => t.v)]} interval={0} tick={axisTick(topTags, (v) => de(v), 16)}
          tickSize={4} tickLine={{ stroke: "#000" }} axisLine={yAxisLine} />
        <Area dataKey={pairKey(fastM, midM)} stroke="none" fill="#ffdf5a" fillOpacity={0.3} connectNulls isAnimationActive={false} />
        <Area dataKey={pairKey(midM, cyanM)} stroke="none" fill="#9ee845" fillOpacity={0.72} connectNulls isAnimationActive={false} />
        <Area dataKey={pairKey(cyanM, blueM)} stroke="none" fill="#3fd8d0" fillOpacity={0.72} connectNulls isAnimationActive={false} />
        <Area dataKey={pairKey(blueM, slowM)} stroke="none" fill="#a466ee" fillOpacity={0.72} connectNulls isAnimationActive={false} />
        <Line dataKey={mapKey(cyanM)} stroke="#2ccf7a" strokeWidth={1} dot={false} connectNulls isAnimationActive={false} />
        <Line dataKey={mapKey(blueM)} stroke="#6a7cff" strokeWidth={1} dot={false} connectNulls isAnimationActive={false} />
        <Line dataKey={mapKey(slowM)} stroke="#cc00cc" strokeWidth={2.5} dot={false} connectNulls isAnimationActive={false} />
        <Line dataKey={mapKey(midM)} stroke="#111" strokeWidth={1.8} dot={false} connectNulls isAnimationActive={false} />
        <Line dataKey={mapKey(fastM)} stroke="#ff8a1c" strokeWidth={2.4} dot={false} connectNulls isAnimationActive={false} />
        <Bar dataKey={candleKey} barSize={8} shape={CandleTop} isAnimationActive={false} />
      </Panel>

      {/* lower chart: candles, cloud, trend lines, signals */}
      <Panel top={338} height={1043}>
        {hiddenX}
        <YAxis orientation="right" width={AXW} type="number" domain={[100598, 126791]} allowDataOverflow
          ticks={[...mainTicks, ...mainTags.map((t) => t.v)]} interval={0} tick={axisTick(mainTags, (v) => de(v), 16)}
          tickSize={4} tickLine={{ stroke: "#000" }} axisLine={yAxisLine} />
        <Bar dataKey={candleKey} barSize={8} shape={CandleMain} isAnimationActive={false} />
        <Line dataKey={(r: any) => (r.k + LAG < close.length ? close[r.k + LAG] : null)} stroke="#c8c8c8" strokeWidth={1.5} dot={false} isAnimationActive={false} />
        <Line dataKey={mapKey(toMap(trailGreen))} stroke="#00bb00" strokeWidth={1.3} strokeDasharray="2 3" dot={false} connectNulls isAnimationActive={false} />
        <Line dataKey={mapKey(toMap(trailRed))} stroke="#ff0000" strokeWidth={1.3} strokeDasharray="2 3" dot={false} connectNulls isAnimationActive={false} />
        <Line dataKey={mapKey(toMap(trailBlue))} stroke="#0000ee" strokeWidth={1.3} strokeDasharray="2 3" dot={false} connectNulls isAnimationActive={false} />
        <Line dataKey={(r: any) => (r.k < spanA.length ? spanA[r.k] : null)} stroke="#00ee00" strokeWidth={1.3} dot={false} isAnimationActive={false} />
        <Line dataKey={mapKey(toMap(kijun))} stroke="#ff0000" strokeWidth={3} dot={false} connectNulls isAnimationActive={false} />
        <Line dataKey={(r: any) => (r.k < spanB.length ? spanB[r.k] : null)} stroke="#ff00ff" strokeWidth={1.5} dot={false} isAnimationActive={false} />
        <Line dataKey={mapKey(toMap(tenkan))} stroke="#0000ff" strokeWidth={3} dot={false} connectNulls isAnimationActive={false} />
        {markerSlots.map((m, i) => (
          <Line key={`ms${i}`} dataKey={(r: any) => (m.has(r.k) ? (m.get(r.k) as any)[0] : null)} stroke="none"
            dot={markerDot(i)} activeDot={false} isAnimationActive={false} />
        ))}
      </Panel>

      {/* strip at 100 */}
      <Panel top={1382} height={65}>
        {hiddenX}
        <YAxis orientation="right" width={AXW} type="number" domain={[-3.03, 193.9]} allowDataOverflow
          ticks={[0, 100]} interval={0} tick={axisTick(p1Tags, (v) => de(v), 18)} tickLine={false} axisLine={yAxisLine} />
        <Line dataKey={(r: any) => (r.k < strip100Codes.length ? 100 : null)} stroke="none" dot={stripDot(strip100Codes)} activeDot={false} isAnimationActive={false} />
      </Panel>

      {/* strips 1.2 .. 0.7 */}
      <Panel top={1448} height={118}>
        {hiddenX}
        <YAxis orientation="right" width={AXW} type="number" domain={[0.6507, 1.1945]} allowDataOverflow
          ticks={p2Tags.map((t) => t.v)} interval={0} tick={axisTick(p2Tags, null, 18)} tickLine={false} axisLine={yAxisLine} />
        {stripLevels.map((L, i) => (
          <Line key={`st${i}`} dataKey={(r: any) => (r.k < stripCodes[i].length ? L : null)} stroke="none"
            dot={stripDot(stripCodes[i])} activeDot={false} isAnimationActive={false} />
        ))}
      </Panel>

      {/* oscillator signals */}
      <Panel top={1567} height={179}>
        {hiddenX}
        <YAxis orientation="right" width={AXW} type="number" domain={[-4.395, P3TOP]} allowDataOverflow
          ticks={p3Tags.map((t) => t.v)} interval={0} tick={axisTick(p3Tags, null, 18)} tickLine={false} axisLine={yAxisLine} />
        <Bar dataKey={(r: any) => (r.k < 130 ? [-4, P3TOP] : null)} barSize={8} shape={GridBar} isAnimationActive={false} />
        {[3, 2, 1].map((L) => (
          <Line key={`hg${L}`} dataKey={(r: any) => (r.k < 130 ? L : null)} stroke="#8fe88f" strokeWidth={1} strokeDasharray="3 3" dot={false} isAnimationActive={false} />
        ))}
        <Line dataKey={(r: any) => (r.k < 130 ? 0 : null)} stroke="#000" strokeWidth={1} strokeDasharray="1 5" dot={false} isAnimationActive={false} />
        {[-1, -2, -3].map((L) => (
          <Line key={`ho${L}`} dataKey={(r: any) => (r.k < 130 ? L : null)} stroke="#ffa552" strokeWidth={1} strokeDasharray="3 3" dot={false} isAnimationActive={false} />
        ))}
        <Line dataKey={(r: any) => (r.k < 130 ? -4 : null)} stroke="#ff0000" strokeWidth={1.5} dot={false} isAnimationActive={false} />
        {signalLevels.map((L, i) => (
          <Line key={`sg${i}`} dataKey={(r: any) => (signalMaps[i].has(r.k) ? L : null)} stroke="none"
            dot={signalDot(signalMaps[i])} activeDot={false} isAnimationActive={false} />
        ))}
      </Panel>

      {/* trend strips + month axis */}
      <Panel top={1747} height={110}>
        <XAxis dataKey="k" type="category" scale="band" padding={{ left: 0, right: 6 }} height={24} interval={0}
          tickLine={false} tickSize={0} tickMargin={0} axisLine={{ stroke: "#000", strokeWidth: 1.5 }} tick={monthTick} />
        <YAxis orientation="right" width={AXW} type="number" domain={[0.4667, 3.0148]} allowDataOverflow
          ticks={[]} tick={false} tickLine={false} axisLine={yAxisLine} />
        {trendLevels.map((L, i) => (
          <Line key={`tr${i}`} dataKey={(r: any) => (r.k < trendCodes[i].length ? L : null)} stroke="none"
            dot={trendDot(trendCodes[i])} activeDot={false} isAnimationActive={false} />
        ))}
      </Panel>

      {/* frame pieces */}
      <div style={{ position: "absolute", left: 0, top: 0, width: 1759, height: 1, background: "#222" }} />
      {hr(336)}
      {hr(339)}
      {hr(1381)}
      {hr(1447)}
      {hr(1566)}
      {hr(1746)}
      <div style={{ position: "absolute", left: 1755, top: 0, width: 4, height: 1857, background: "#2b2b2b" }} />
      <div style={{ position: "absolute", left: 1723, top: 13, width: 32, height: 28, background: "#111", borderRadius: "14px 0 0 14px", color: "#00c000", fontSize: 13, fontFamily: "DejaVu Sans", display: "flex", alignItems: "center", justifyContent: "center" }}>
        {"<"}
      </div>
      <div style={{ position: "absolute", left: 0, top: 1857, width: 1759, height: 13, background: "#f0f0f0" }} />
      <div style={{ position: "absolute", left: 960, top: 1857, width: 770, height: 13, background: "#cdcdcd" }} />

      <Header top={10} dim={false} />
      <Header top={345} dim={true} />

      {/* chart annotations */}
      <svg width={1759} height={1870} style={{ position: "absolute", left: 0, top: 0, pointerEvents: "none" }}>
        <g fontFamily="DejaVu Sans" fontWeight={700}>
          <text x={24} y={932} fontSize={32} fill="#ff0000">1</text>
          <text x={47} y={1298} fontSize={32} fill="#ff0000">2</text>
          <g fontStyle="italic">
            <text x={470} y={950} fontSize={24} fill="#800000" stroke="#800000" strokeWidth={0.6} textLength={115} lengthAdjust="spacingAndGlyphs">bbKombi</text>
            <text x={411} y={1079} fontSize={26} fill="#11ee11" stroke="#11ee11" strokeWidth={0.6} textLength={67} lengthAdjust="spacingAndGlyphs">RGR</text>
            <text x={290} y={1238} fontSize={55} fill="#ff00ff" stroke="#ff00ff" strokeWidth={1.6} textLength={428} lengthAdjust="spacingAndGlyphs">CRYPTONATOR</text>
            <text x={261} y={1292} fontSize={35} fill="#0000ff" stroke="#0000ff" strokeWidth={1} textLength={564} lengthAdjust="spacingAndGlyphs">The Big Long *BitCoin* (Day)</text>
          </g>
        </g>
      </svg>
    </div>
  );
}
